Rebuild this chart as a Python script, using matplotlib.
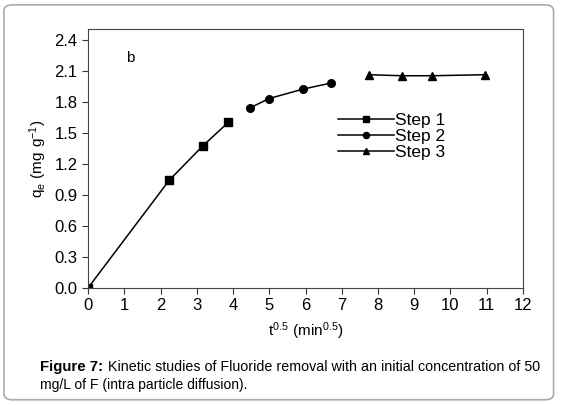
import matplotlib.pyplot as plt
from matplotlib.patches import FancyBboxPatch

plt.rcParams['font.family'] = ['Liberation Sans', 'DejaVu Sans']

# t^0.5 (min^0.5) and qe (mg/g) for the three diffusion steps
step1_x = [0.0, 2.24, 3.16, 3.87]
step1_y = [0.0, 1.04, 1.37, 1.60]
step2_x = [4.47, 5.0, 5.92, 6.71]
step2_y = [1.74, 1.83, 1.92, 1.98]
step3_x = [7.75, 8.66, 9.49, 10.95]
step3_y = [2.06, 2.05, 2.05, 2.06]

xticks = list(range(0, 13))
yticks = [0.0, 0.3, 0.6, 0.9, 1.2, 1.5, 1.8, 2.1, 2.4]

fig = plt.figure(figsize=(5.62, 4.05), dpi=100)
ax = fig.add_axes([0.1566, 0.289, 0.774, 0.639])

ax.plot(step1_x, step1_y, '-s', color='black', lw=1.1, ms=5.5, label='Step 1')
ax.plot(step2_x, step2_y, '-o', color='black', lw=1.1, ms=5.5, label='Step 2')
ax.plot(step3_x, step3_y, '-^', color='black', lw=1.1, ms=6, label='Step 3')

ax.set_xlim(0, 12)
ax.set_ylim(0, 2.5)
ax.set_xticks(xticks)
ax.set_yticks(yticks)
ax.set_yticklabels([f'{v:.1f}' for v in yticks])
ax.tick_params(direction='out', length=4, labelsize=12, color='#333333')
for s in ax.spines.values():
    s.set_color('#444444')

ax.set_xlabel(r'$\mathregular{t^{0.5}\ (min^{0.5})}$', fontsize=11, labelpad=5)
ax.set_ylabel(r'$\mathregular{q_e\ (mg\ g^{-1})}$', fontsize=11, labelpad=4)
ax.text(1.05, 2.18, 'b', fontsize=11)

ax.legend(loc='upper left', bbox_to_anchor=(0.575, 0.675), frameon=False,
          fontsize=12.5, handlelength=3.2, handletextpad=0.1, labelspacing=0.05,
          borderpad=0, borderaxespad=0, markerscale=0.8)

fig.text(40 / 562, 0.085, 'Figure 7:', fontsize=10.8, fontweight='bold')
fig.text(108 / 562, 0.085, 'Kinetic studies of Fluoride removal with an initial concentration of 50',
         fontsize=10.3)
fig.text(40 / 562, 0.04, 'mg/L of F (intra particle diffusion).', fontsize=10)

border = FancyBboxPatch((0.007, 0.013), 0.978, 0.975, boxstyle='round,pad=0,rounding_size=0.015',
                        transform=fig.transFigure, fill=False, edgecolor='#aaaaaa', lw=1.2)
fig.patches.append(border)

fig.savefig('out.png', dpi=100)
